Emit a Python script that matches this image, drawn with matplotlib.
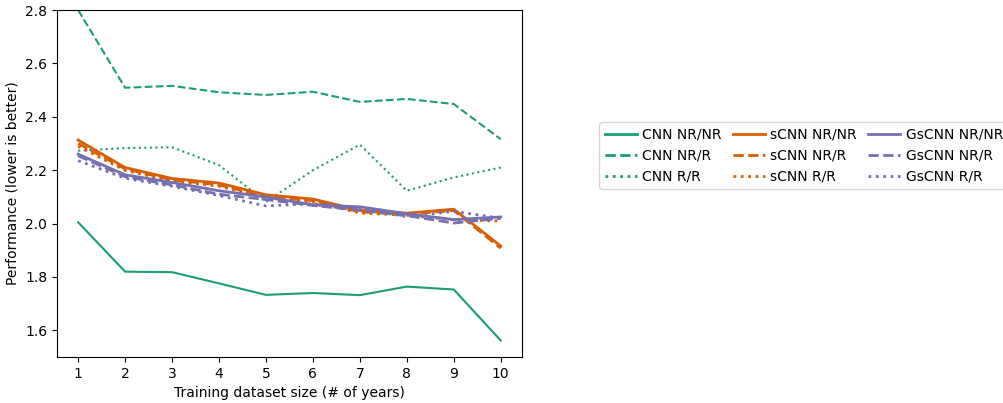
import matplotlib
matplotlib.use("Agg")
import matplotlib.pyplot as plt
import numpy as np

years = np.arange(1, 11)

cnn_nrnr = [2.005, 1.820, 1.818, 1.776, 1.733, 1.740, 1.732, 1.764, 1.753, 1.562]
cnn_nrr = [2.800, 2.509, 2.516, 2.492, 2.482, 2.494, 2.456, 2.467, 2.448, 2.316]
cnn_rr = [2.273, 2.283, 2.286, 2.219, 2.081, 2.200, 2.296, 2.123, 2.173, 2.210]

scnn_nrnr = [2.313, 2.210, 2.169, 2.152, 2.108, 2.092, 2.050, 2.039, 2.054, 1.916]
scnn_nrr = [2.300, 2.205, 2.164, 2.145, 2.101, 2.086, 2.044, 2.035, 2.049, 1.908]
scnn_rr = [2.290, 2.199, 2.160, 2.140, 2.096, 2.081, 2.040, 2.031, 2.014, 2.010]

gscnn_nrnr = [2.260, 2.183, 2.154, 2.123, 2.100, 2.070, 2.063, 2.037, 2.015, 2.025]
gscnn_nrr = [2.254, 2.176, 2.145, 2.110, 2.090, 2.068, 2.050, 2.030, 2.002, 2.020]
gscnn_rr = [2.236, 2.170, 2.140, 2.105, 2.066, 2.075, 2.055, 2.026, 2.046, 2.020]

# Dark2 colours
c_cnn, c_scnn, c_gscnn = "#1b9e77", "#d95f02", "#7570b3"

fig = plt.figure(figsize=(10.04, 4.03), dpi=100)
ax = fig.add_axes([0.0568, 0.114, 0.463, 0.861])

ax.plot(years, cnn_nrnr, color=c_cnn, ls="-", lw=1.5, label="CNN NR/NR")
ax.plot(years, cnn_nrr, color=c_cnn, ls="--", lw=1.5, label="CNN NR/R")
ax.plot(years, cnn_rr, color=c_cnn, ls=":", lw=1.5, label="CNN R/R")
ax.plot(years, scnn_nrnr, color=c_scnn, ls="-", lw=2, label="sCNN NR/NR")
ax.plot(years, scnn_nrr, color=c_scnn, ls="--", lw=2, label="sCNN NR/R")
ax.plot(years, scnn_rr, color=c_scnn, ls=":", lw=2, label="sCNN R/R")
ax.plot(years, gscnn_nrnr, color=c_gscnn, ls="-", lw=2, label="GsCNN NR/NR")
ax.plot(years, gscnn_nrr, color=c_gscnn, ls="--", lw=2, label="GsCNN NR/R")
ax.plot(years, gscnn_rr, color=c_gscnn, ls=":", lw=2, label="GsCNN R/R")

ax.set_xticks(years)
ax.set_ylim(1.5, 2.8)
ax.set_xlabel("Training dataset size (# of years)")
ax.set_ylabel("Performance (lower is better)")

leg = fig.legend(loc="center left", bbox_to_anchor=(0.590, 0.614), ncol=3,
                 fontsize=10, handlelength=2.3, columnspacing=0.8,
                 handletextpad=0.4)
for h in leg.get_lines():
    h.set_linewidth(2)

fig.savefig("out.png", dpi=100)
